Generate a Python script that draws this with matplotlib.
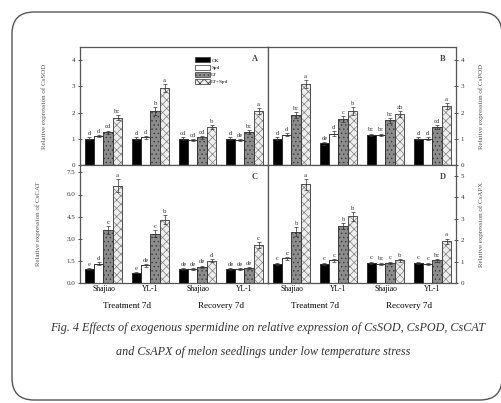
import matplotlib
matplotlib.use("Agg")
import matplotlib.pyplot as plt
import numpy as np
from matplotlib.patches import FancyBboxPatch, Patch
from matplotlib.transforms import IdentityTransform

plt.rcParams['font.family'] = ['Liberation Serif', 'DejaVu Serif']
plt.rcParams['hatch.linewidth'] = 0.5

cultivars = ["Shajiao", "YL-1", "Shajiao", "YL-1"]
stages = ["Treatment 7d", "Recovery 7d"]
treatments = ["CK", "Spd", "LT", "LT+Spd"]

# values per panel: rows = treatments (CK, Spd, LT, LT+Spd), cols = groups
sod = [[1.00, 1.00, 1.00, 1.00],
       [1.10, 1.05, 0.95, 0.95],
       [1.25, 2.05, 1.05, 1.25],
       [1.80, 2.95, 1.45, 2.05]]
pod = [[1.00, 0.82, 1.15, 1.00],
       [1.15, 1.20, 1.15, 1.00],
       [1.90, 1.75, 1.70, 1.45],
       [3.10, 2.05, 1.95, 2.25]]
cat = [[0.95, 0.70, 0.95, 0.95],
       [1.30, 1.20, 0.95, 0.95],
       [3.60, 3.35, 1.10, 1.00],
       [6.60, 4.30, 1.50, 2.60]]
apx = [[0.90, 0.90, 0.95, 0.95],
       [1.15, 1.05, 0.90, 0.90],
       [2.40, 2.65, 0.95, 1.05],
       [4.60, 3.10, 1.05, 1.95]]

sod_err = [[0.05, 0.05, 0.05, 0.05], [0.05, 0.05, 0.05, 0.05], [0.06, 0.15, 0.05, 0.08], [0.10, 0.15, 0.08, 0.12]]
pod_err = [[0.05, 0.05, 0.05, 0.05], [0.06, 0.08, 0.05, 0.05], [0.12, 0.10, 0.10, 0.08], [0.15, 0.15, 0.12, 0.12]]
cat_err = [[0.05, 0.05, 0.05, 0.05], [0.10, 0.10, 0.05, 0.05], [0.25, 0.25, 0.08, 0.08], [0.45, 0.30, 0.10, 0.20]]
apx_err = [[0.05, 0.05, 0.05, 0.05], [0.06, 0.06, 0.05, 0.05], [0.20, 0.15, 0.05, 0.06], [0.25, 0.20, 0.08, 0.12]]

sod_let = [["d", "d", "cd", "d"], ["d", "d", "cd", "de"], ["cd", "b", "cd", "bc"], ["bc", "a", "b", "a"]]
pod_let = [["d", "de", "bc", "d"], ["d", "d", "bc", "d"], ["bc", "c", "bc", "cd"], ["a", "b", "ab", "a"]]
cat_let = [["e", "e", "de", "de"], ["d", "de", "de", "de"], ["c", "c", "de", "de"], ["a", "b", "d", "c"]]
apx_let = [["c", "c", "c", "c"], ["c", "c", "bc", "c"], ["b", "b", "c", "bc"], ["a", "b", "b", "a"]]

panels = [
    dict(vals=sod, err=sod_err, let=sod_let, ylim=4.5, ticks=[0, 1, 2, 3, 4], fmt="{:.0f}",
         label="Relative expression of CsSOD", tag="A", side="left", row=0, col=0),
    dict(vals=pod, err=pod_err, let=pod_let, ylim=4.5, ticks=[0, 1, 2, 3, 4], fmt="{:.0f}",
         label="Relative expression of CsPOD", tag="B", side="right", row=0, col=1),
    dict(vals=cat, err=cat_err, let=cat_let, ylim=8.0, ticks=[0, 1.5, 3.0, 4.5, 6.0, 7.5], fmt="{:.1f}",
         label="Relative expression of CsCAT", tag="C", side="left", row=1, col=0),
    dict(vals=apx, err=apx_err, let=apx_let, ylim=5.5, ticks=[0, 1, 2, 3, 4, 5], fmt="{:.0f}",
         label="Relative expression of CsAPX", tag="D", side="right", row=1, col=1),
]

W, H = 502, 403
fig = plt.figure(figsize=(W / 100, H / 100), dpi=100)
fig.patch.set_facecolor("white")

border = FancyBboxPatch((12, H - 400), 490, 388, boxstyle="round,pad=0,rounding_size=22",
                        transform=IdentityTransform(), facecolor="none", edgecolor="#555555", lw=1.0)
fig.add_artist(border)

x_left = [80, 268]
x_w = 188
y_top = [47, 165]
y_h = 118

styles = [
    dict(facecolor="black", edgecolor="black", hatch=None),
    dict(facecolor="white", edgecolor="black", hatch=None),
    dict(facecolor="#8c8c8c", edgecolor="#3a3a3a", hatch="...."),
    dict(facecolor="#eeeeee", edgecolor="#808080", hatch="xxxx"),
]

bw = 0.2
centers = np.arange(4) + 0.5
for p in panels:
    l = x_left[p["col"]] / W
    b = 1 - (y_top[p["row"]] + y_h) / H
    ax = fig.add_axes([l, b, x_w / W, y_h / H])
    for i in range(4):
        xs = centers + (i - 1.5) * bw
        st = styles[i]
        ax.bar(xs, p["vals"][i], bw, facecolor=st["facecolor"], edgecolor=st["edgecolor"],
               hatch=st["hatch"], linewidth=0.5, zorder=2)
        ax.bar(xs, p["vals"][i], bw, facecolor="none", edgecolor="#333333", linewidth=0.5, zorder=3)
        ax.errorbar(xs, p["vals"][i], yerr=p["err"][i], fmt="none", ecolor="#333333",
                    elinewidth=0.5, capsize=1.2, capthick=0.5, zorder=4)
        for x, v, e, t in zip(xs, p["vals"][i], p["err"][i], p["let"][i]):
            ax.text(x, v + e + p["ylim"] * 0.01, t, ha="center", va="bottom", fontsize=4.8,
                    color="#333333", zorder=5)
    ax.set_xlim(0, 4)
    ax.set_ylim(0, p["ylim"])
    ax.set_yticks(p["ticks"])
    ax.set_yticklabels([p["fmt"].format(t) for t in p["ticks"]], fontsize=5)
    for s in ax.spines.values():
        s.set_linewidth(0.9)
        s.set_color("#555555")
    if p["side"] == "right":
        ax.yaxis.tick_right()
        ax.yaxis.set_label_position("right")
        pad = 10
    else:
        pad = 18
    ax.tick_params(axis="y", direction="inout", length=3, width=0.6, pad=2, colors="#333333")
    ax.set_ylabel(p["label"], fontsize=5, color="#555555", labelpad=pad)
    if p["row"] == 1:
        ax.set_xticks(centers)
        ax.set_xticklabels(cultivars, fontsize=5.5)
        ax.tick_params(axis="x", length=0, pad=1.5)
        ax.text(1.0, -0.16, stages[0], transform=ax.get_xaxis_transform(), ha="center",
                va="top", fontsize=6.5)
        ax.text(3.0, -0.16, stages[1], transform=ax.get_xaxis_transform(), ha="center",
                va="top", fontsize=6.5)
    else:
        ax.set_xticks([])
    ax.text(0.93, 0.9, p["tag"], transform=ax.transAxes, ha="center", va="center",
            fontsize=6, fontweight="bold", color="#444444")
    if p["tag"] == "A":
        handles = [Patch(facecolor=s["facecolor"], edgecolor="#333333", hatch=s["hatch"], linewidth=0.5)
                   for s in styles]
        ax.legend(handles, treatments, loc="upper left", bbox_to_anchor=(0.6, 0.93), fontsize=3.8,
                  frameon=False, handlelength=2.8, handleheight=1.1, labelspacing=0.35,
                  borderaxespad=0, handletextpad=0.3)

fig.text(0.533, 1 - 328 / H, "Fig. 4 Effects of exogenous spermidine on relative expression of CsSOD, CsPOD, CsCAT",
         ha="center", va="center", fontsize=8.7, style="italic", color="#333333")
fig.text(0.525, 1 - 352 / H, "and CsAPX of melon seedlings under low temperature stress",
         ha="center", va="center", fontsize=8.7, style="italic", color="#333333")

fig.savefig("out.png", dpi=100, facecolor="white")
